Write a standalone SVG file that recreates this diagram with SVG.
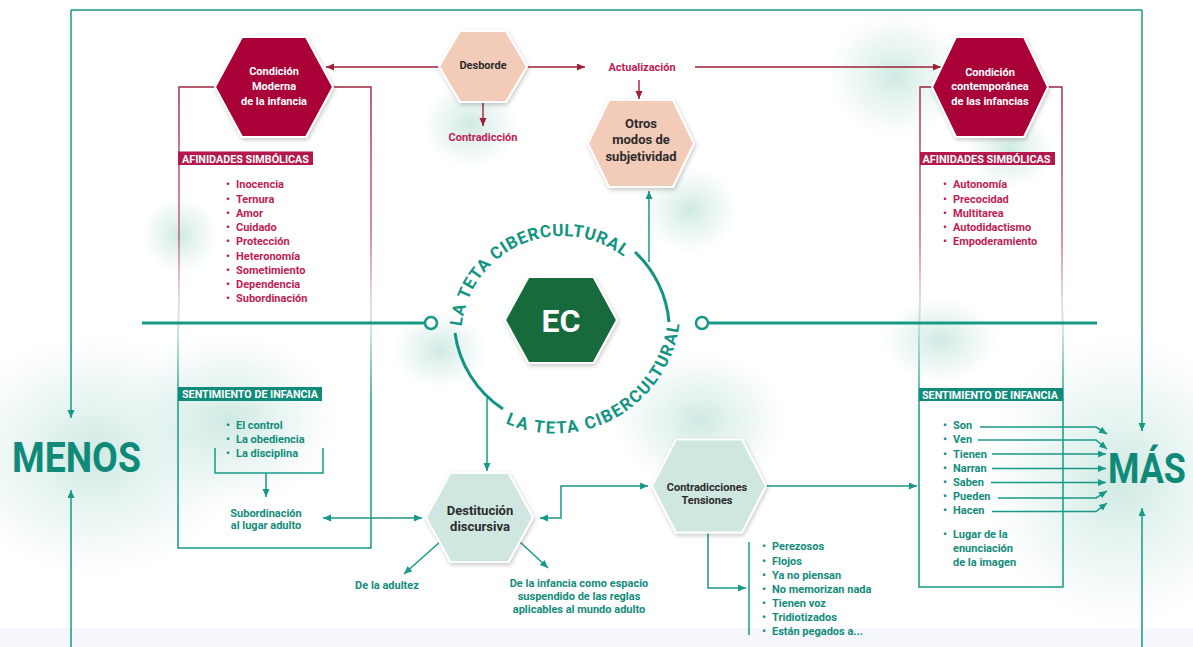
<svg xmlns="http://www.w3.org/2000/svg" width="1193" height="647" viewBox="0 0 1193 647">
<defs>
<style>
text{font-family:Roboto,"Liberation Sans",Arial,sans-serif;font-weight:700}
.t{fill:#138c7b;font-size:11px}
.r{fill:#be1d56;font-size:11px}
.w{fill:#ffffff;font-size:11px}
.d{fill:#2b2b2b}
.ln{fill:none;stroke:#179987;stroke-width:1.5}
.rl{fill:none;stroke:#9e2035;stroke-width:1.4}
.hex{stroke:#ffffff;stroke-width:2;filter:url(#sh)}
.ring{fill:none;stroke:#129482;stroke-width:3}
.rt{fill:#129482;font-size:17px}
</style>
<filter id="sh" x="-20%" y="-20%" width="140%" height="140%"><feDropShadow dx="1" dy="2" stdDeviation="2" flood-color="#000" flood-opacity="0.22"/></filter>
<radialGradient id="blob"><stop offset="0" stop-color="#bfe2da" stop-opacity="0.75"/><stop offset="0.6" stop-color="#d6ede8" stop-opacity="0.4"/><stop offset="1" stop-color="#e6f4f1" stop-opacity="0"/></radialGradient>
<linearGradient id="redFade" gradientUnits="userSpaceOnUse" x1="0" y1="87" x2="0" y2="335"><stop offset="0" stop-color="#a3223a"/><stop offset="0.6" stop-color="#a3223a" stop-opacity="0.7"/><stop offset="1" stop-color="#a3223a" stop-opacity="0"/></linearGradient>
<linearGradient id="tealFade" gradientUnits="userSpaceOnUse" x1="0" y1="300" x2="0" y2="400"><stop offset="0" stop-color="#179987" stop-opacity="0"/><stop offset="1" stop-color="#179987"/></linearGradient>
<marker id="at" markerUnits="userSpaceOnUse" markerWidth="9" markerHeight="8" refX="8" refY="3.5" orient="auto-start-reverse"><path d="M0,0 L8,3.5 L0,7 z" fill="#179987"/></marker>
<marker id="ar" markerUnits="userSpaceOnUse" markerWidth="9" markerHeight="8" refX="8" refY="3.5" orient="auto-start-reverse"><path d="M0,0 L8,3.5 L0,7 z" fill="#9e2035"/></marker>
<path id="ringTop" d="M461,337 A101,101 0 1 1 663,337"/>
<path id="ringBot" d="M429.5,308 A125.5,125.5 0 0 0 680.5,308"/>
</defs>
<rect width="1193" height="647" fill="#ffffff"/>
<g id="background">
<ellipse cx="95" cy="455" rx="150" ry="125" fill="url(#blob)"/>
<ellipse cx="1120" cy="480" rx="140" ry="150" fill="url(#blob)"/>
<ellipse cx="895" cy="75" rx="70" ry="65" fill="url(#blob)"/>
<ellipse cx="1010" cy="150" rx="45" ry="40" fill="url(#blob)"/>
<ellipse cx="470" cy="125" rx="50" ry="45" fill="url(#blob)"/>
<ellipse cx="180" cy="235" rx="40" ry="40" fill="url(#blob)"/>
<ellipse cx="700" cy="420" rx="90" ry="70" fill="url(#blob)"/>
<ellipse cx="440" cy="350" rx="50" ry="40" fill="url(#blob)"/>
<ellipse cx="230" cy="420" rx="110" ry="90" fill="url(#blob)"/>
<ellipse cx="690" cy="210" rx="50" ry="45" fill="url(#blob)"/>
<ellipse cx="940" cy="340" rx="60" ry="45" fill="url(#blob)"/>
<rect x="0" y="628" width="1193" height="19" fill="#f6f7fc"/>
</g>
<g id="connectors">
<path class="ln" d="M71,10 H1142"/>
<path class="ln" d="M71,10 V418" marker-end="url(#at)"/>
<path class="ln" d="M1142,10 V431" marker-end="url(#at)"/>
<path class="ln" d="M71,647 V490" marker-end="url(#at)"/>
<path class="ln" d="M1142,647 V508" marker-end="url(#at)"/>
<path d="M142,323 H425 M708,323 H1097" fill="none" stroke="#179987" stroke-width="3"/>
<circle cx="431" cy="323" r="6" fill="#ffffff" stroke="#179987" stroke-width="2.5"/>
<circle cx="702" cy="323" r="6" fill="#ffffff" stroke="#179987" stroke-width="2.5"/>
<path class="ring" d="M635,252 A108,108 0 0 1 669,322"/>
<path class="ring" d="M455,333 A108,108 0 0 0 503,409"/>
<path d="M215,87 H179 V335 M333,87 H371 V335 M932,87 H920 V335 M1048,87 H1062 V335" fill="none" stroke="url(#redFade)" stroke-width="1.4"/>
<path d="M178,300 V548 H371 V300 M919,300 V587 H1063 V300" fill="none" stroke="url(#tealFade)" stroke-width="1.5"/>
<path class="rl" d="M439,67 H326" marker-end="url(#ar)"/>
<path class="rl" d="M527,67 H585" marker-end="url(#ar)"/>
<path class="rl" d="M695,67 H941" marker-end="url(#ar)"/>
<path class="rl" d="M483,102 V126" marker-end="url(#ar)"/>
<path class="rl" d="M639,80 V99" marker-end="url(#ar)"/>
<path class="ln" d="M649,262 V191" marker-end="url(#at)"/>
<path class="ln" d="M487,398 V471" marker-end="url(#at)"/>
<path class="ln" d="M215,448 V473 H323 V448"/>
<path class="ln" d="M266,473 V497" marker-end="url(#at)"/>
<path class="ln" d="M323,518 H422" marker-start="url(#at)" marker-end="url(#at)"/>
<path class="ln" d="M540,518 H561 V486 H648" marker-start="url(#at)" marker-end="url(#at)"/>
<path class="ln" d="M766,486 H917" marker-end="url(#at)"/>
<path class="ln" d="M708,533 V588 H746" marker-end="url(#at)"/>
<path class="ln" d="M749,542 V635"/>
<path class="ln" d="M441,541 L404,574" marker-end="url(#at)"/>
<path class="ln" d="M520,542 L548,568" marker-end="url(#at)"/>
<path class="ln" d="M980,427 H1096 L1107,434" marker-end="url(#at)" stroke-width="1.2"/>
<path class="ln" d="M978,440 H1096 L1107,449" marker-end="url(#at)" stroke-width="1.2"/>
<path class="ln" d="M992,454 H1106" marker-end="url(#at)" stroke-width="1.2"/>
<path class="ln" d="M992,468.5 H1106" marker-end="url(#at)" stroke-width="1.2"/>
<path class="ln" d="M991,482.5 H1106" marker-end="url(#at)" stroke-width="1.2"/>
<path class="ln" d="M998,498 H1096 L1107,491" marker-end="url(#at)" stroke-width="1.2"/>
<path class="ln" d="M992,511.5 H1096 L1107,503" marker-end="url(#at)" stroke-width="1.2"/>
</g>
<g id="ring-text">
<text class="rt"><textPath href="#ringTop" startOffset="10.6" textLength="214" lengthAdjust="spacing">LA TETA CIBERCULTURAL</textPath></text>
<text class="rt"><textPath href="#ringBot" startOffset="146" textLength="232" lengthAdjust="spacing">LA TETA CIBERCULTURAL</textPath></text>
</g>
<g id="node-menos"><text transform="translate(12,472) scale(0.89,1)" font-size="42" fill="#0f8a78">MENOS</text></g>
<g id="node-mas"><text transform="translate(1108,483) scale(0.855,1)" font-size="42" fill="#0f8a78">MÁS</text></g>
<g id="node-moderna">
<polygon class="hex" points="215,87 242,37 306,37 333,87 306,137 242,137" fill="#aa0039"/>
<text class="w" x="274" y="75" text-anchor="middle">Condición</text>
<text class="w" x="274" y="90" text-anchor="middle">Moderna</text>
<text class="w" x="274" y="104.5" text-anchor="middle">de la infancia</text>
</g>
<g id="node-desborde">
<polygon class="hex" points="439,66.5 460,31 506,31 527,66.5 506,102 460,102" fill="#f3cbb9"/>
<text class="d" x="483" y="68.5" font-size="11" text-anchor="middle">Desborde</text>
</g>
<g id="label-actualizacion"><text class="r" x="642" y="71" text-anchor="middle">Actualización</text></g>
<g id="label-contradiccion"><text class="r" x="483" y="141" text-anchor="middle">Contradicción</text></g>
<g id="node-otros">
<polygon class="hex" points="588,143.5 609,100 673,100 694,143.5 673,187 609,187" fill="#f3cbb9"/>
<text class="d" x="641" y="128" font-size="13" text-anchor="middle">Otros</text>
<text class="d" x="641" y="144" font-size="13" text-anchor="middle">modos de</text>
<text class="d" x="641" y="160.5" font-size="13" text-anchor="middle">subjetividad</text>
</g>
<g id="node-contemporanea">
<polygon class="hex" points="932,87 956,37 1024,37 1048,87 1024,137 956,137" fill="#aa0039"/>
<text class="w" x="990" y="76" text-anchor="middle">Condición</text>
<text class="w" x="990" y="90" text-anchor="middle">contemporánea</text>
<text class="w" x="990" y="104.5" text-anchor="middle">de las infancias</text>
</g>
<g id="afinidades-left">
<rect x="178" y="151.5" width="135" height="13.5" fill="#b5184c"/>
<text class="w" x="182" y="162.5" textLength="127" lengthAdjust="spacingAndGlyphs">AFINIDADES SIMBÓLICAS</text>
<text class="r"><tspan x="226" y="188">•</tspan><tspan x="236" y="188">Inocencia</tspan></text>
<text class="r"><tspan x="226" y="202.5">•</tspan><tspan x="236" y="202.5">Ternura</tspan></text>
<text class="r"><tspan x="226" y="216.5">•</tspan><tspan x="236" y="216.5">Amor</tspan></text>
<text class="r"><tspan x="226" y="231">•</tspan><tspan x="236" y="231">Cuidado</tspan></text>
<text class="r"><tspan x="226" y="245">•</tspan><tspan x="236" y="245">Protección</tspan></text>
<text class="r"><tspan x="226" y="259.5">•</tspan><tspan x="236" y="259.5">Heteronomía</tspan></text>
<text class="r"><tspan x="226" y="273.5">•</tspan><tspan x="236" y="273.5">Sometimiento</tspan></text>
<text class="r"><tspan x="226" y="287.5">•</tspan><tspan x="236" y="287.5">Dependencia</tspan></text>
<text class="r"><tspan x="226" y="301.5">•</tspan><tspan x="236" y="301.5">Subordinación</tspan></text>
</g>
<g id="afinidades-right">
<rect x="920" y="152" width="135" height="13" fill="#b5184c"/>
<text class="w" x="922.5" y="163" textLength="128" lengthAdjust="spacingAndGlyphs">AFINIDADES SIMBÓLICAS</text>
<text class="r"><tspan x="943" y="188">•</tspan><tspan x="953" y="188">Autonomía</tspan></text>
<text class="r"><tspan x="943" y="202.5">•</tspan><tspan x="953" y="202.5">Precocidad</tspan></text>
<text class="r"><tspan x="943" y="216.5">•</tspan><tspan x="953" y="216.5">Multitarea</tspan></text>
<text class="r"><tspan x="943" y="231">•</tspan><tspan x="953" y="231">Autodidactismo</tspan></text>
<text class="r"><tspan x="943" y="245">•</tspan><tspan x="953" y="245">Empoderamiento</tspan></text>
</g>
<g id="node-ec">
<polygon class="hex" points="505,320 528.5,277 593.5,277 617,320 593.5,363 528.5,363" fill="#146a3a"/>
<text x="561" y="331.5" font-size="32" fill="#ffffff" text-anchor="middle">EC</text>
</g>
<g id="sentimiento-left">
<rect x="178" y="387" width="144" height="14" fill="#0f8c7a"/>
<text class="w" x="182" y="398" textLength="136" lengthAdjust="spacingAndGlyphs">SENTIMIENTO DE INFANCIA</text>
<text class="t"><tspan x="226" y="429">•</tspan><tspan x="236" y="429">El control</tspan></text>
<text class="t"><tspan x="226" y="443">•</tspan><tspan x="236" y="443">La obediencia</tspan></text>
<text class="t"><tspan x="226" y="457">•</tspan><tspan x="236" y="457">La disciplina</tspan></text>
<text class="t" x="266" y="516.5" text-anchor="middle">Subordinación</text>
<text class="t" x="266" y="528.5" text-anchor="middle">al lugar adulto</text>
</g>
<g id="node-destitucion">
<polygon class="hex" points="426,517.5 450.5,473 508.5,473 533,517.5 508.5,562 450.5,562" fill="#cfe7e0"/>
<text class="d" x="480" y="514.5" font-size="13" text-anchor="middle">Destitución</text>
<text class="d" x="480" y="530.5" font-size="13" text-anchor="middle">discursiva</text>
</g>
<g id="label-adultez"><text class="t" x="387" y="588.5" text-anchor="middle">De la adultez</text></g>
<g id="label-infancia-espacio">
<text class="t" x="579" y="586.5" text-anchor="middle">De la infancia como espacio</text>
<text class="t" x="579" y="599.5" text-anchor="middle">suspendido de las reglas</text>
<text class="t" x="579" y="613" text-anchor="middle">aplicables al mundo adulto</text>
</g>
<g id="node-contradicciones">
<polygon class="hex" points="652,486 676,439.5 742,439.5 766,486 742,532.5 676,532.5" fill="#cfe7e0"/>
<text class="d" x="707" y="490.5" font-size="11" text-anchor="middle">Contradicciones</text>
<text class="d" x="707" y="504" font-size="11" text-anchor="middle">Tensiones</text>
</g>
<g id="list-tensiones">
<text class="t"><tspan x="762" y="550">•</tspan><tspan x="772" y="550">Perezosos</tspan></text>
<text class="t"><tspan x="762" y="564.5">•</tspan><tspan x="772" y="564.5">Flojos</tspan></text>
<text class="t"><tspan x="762" y="578.5">•</tspan><tspan x="772" y="578.5">Ya no piensan</tspan></text>
<text class="t"><tspan x="762" y="592.5">•</tspan><tspan x="772" y="592.5">No memorizan nada</tspan></text>
<text class="t"><tspan x="762" y="606.5">•</tspan><tspan x="772" y="606.5">Tienen voz</tspan></text>
<text class="t"><tspan x="762" y="620.5">•</tspan><tspan x="772" y="620.5">Tridiotizados</tspan></text>
<text class="t"><tspan x="762" y="634.5">•</tspan><tspan x="772" y="634.5">Están pegados a...</tspan></text>
</g>
<g id="sentimiento-right">
<rect x="919" y="388" width="144" height="13" fill="#0f8c7a"/>
<text class="w" x="922" y="398.5" textLength="136" lengthAdjust="spacingAndGlyphs">SENTIMIENTO DE INFANCIA</text>
<text class="t"><tspan x="943" y="428.5">•</tspan><tspan x="953" y="428.5">Son</tspan></text>
<text class="t"><tspan x="943" y="443">•</tspan><tspan x="953" y="443">Ven</tspan></text>
<text class="t"><tspan x="943" y="457.5">•</tspan><tspan x="953" y="457.5">Tienen</tspan></text>
<text class="t"><tspan x="943" y="471.5">•</tspan><tspan x="953" y="471.5">Narran</tspan></text>
<text class="t"><tspan x="943" y="485.5">•</tspan><tspan x="953" y="485.5">Saben</tspan></text>
<text class="t"><tspan x="943" y="500">•</tspan><tspan x="953" y="500">Pueden</tspan></text>
<text class="t"><tspan x="943" y="514">•</tspan><tspan x="953" y="514">Hacen</tspan></text>
<text class="t"><tspan x="943" y="537.5">•</tspan><tspan x="953" y="537.5">Lugar de la</tspan></text>
<text class="t" x="953" y="551.5">enunciación</text>
<text class="t" x="953" y="566">de la imagen</text>
</g>
</svg>
